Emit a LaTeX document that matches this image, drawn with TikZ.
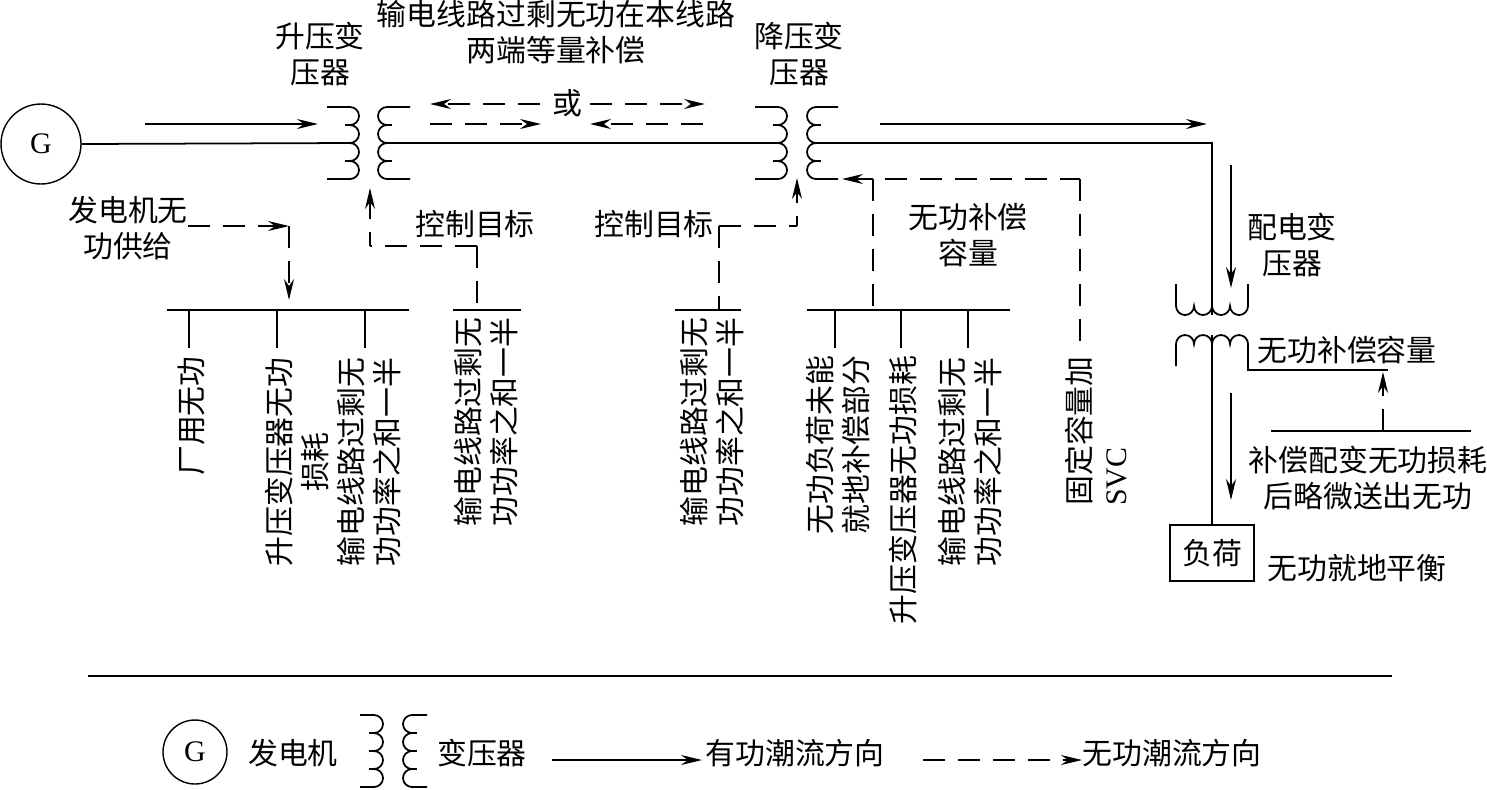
\documentclass[tikz,border=0pt]{standalone}
\usepackage{fontspec}
\setmainfont{Noto Sans CJK SC}
\newfontfamily\latinfont{Liberation Serif}
\usetikzlibrary{arrows.meta}
\tikzset{
  wire/.style={line width=1pt},
  flow/.style={wire,-{Stealth[length=0.42cm,width=0.2cm,inset=0.14cm]}},
  qline/.style={wire,dash pattern=on 0.44cm off 0.26cm},
  qflow/.style={qline,-{Stealth[length=0.42cm,width=0.2cm,inset=0.14cm]}},
  lbl/.style={align=center,font=\fontsize{17}{20.5}\selectfont,inner sep=0pt},
  vlbl/.style={lbl,rotate=90},
  machine/.style={draw,circle,line width=0.8pt,inner sep=0pt,font=\fontsize{17}{17}\latinfont},
  pics/coil/.style n args={2}{code={
    \draw[wire] (-#1,0) -- (0,0) arc (90:-90:9) arc (90:-90:9) arc (90:-90:9) arc (90:-90:9) -- (-#1,-72);
    \foreach \y in {-18,-36,-54} \draw[wire] (-#2,\y) -- (0,\y);
  }}
}
\begin{document}
\begin{tikzpicture}[x=0.02cm,y=0.02cm]
  \useasboundingbox (0,0) rectangle (1487,-789);

  \node[machine,minimum size=1.6cm] (gen) at (41,-144) {G};
  \pic at (350,-107) {coil={23}{5}};
  \pic[xscale=-1] at (387,-107) {coil={23}{5}};
  \pic at (778,-107) {coil={23}{5}};
  \pic[xscale=-1] at (816,-107) {coil={22}{5}};
  \pic[rotate=-90] at (1248,-306) {coil={22}{0}};
  \pic[rotate=90] at (1176,-344) {coil={22}{0}};

  \coordinate (upin) at (350,-143);
  \coordinate (upout) at (387,-143);
  \coordinate (downin) at (778,-143);
  \coordinate (downout) at (816,-143);
  \coordinate (feedcorner) at (1212,-143);
  \coordinate (distin) at (1212,-315);
  \coordinate (distout) at (1212,-335);
  \draw[wire] (gen.east) -- (upin);
  \draw[wire] (upout) -- (downin);
  \draw[wire] (downout) -- (feedcorner) -- (distin);

  \node[lbl] (upname) at (320,-54) {升压变\\压器};
  \node[lbl] (title) at (556,-32) {输电线路过剩无功在本线路\\两端等量补偿};
  \node[lbl] (downname) at (799,-54) {降压变\\压器};
  \node[lbl] (ormark) at (567,-103) {或};
  \node[lbl] (genq) at (128,-228) {发电机无\\功供给};
  \node[lbl] (aimup) at (475,-224) {控制目标};
  \node[lbl] (aimdown) at (654,-224) {控制目标};
  \node[lbl] (compq) at (968,-235) {无功补偿\\容量};
  \node[lbl] (distname) at (1292,-245) {配电变\\压器};
  \node[lbl] (distq) at (1347,-350) {无功补偿容量};
  \node[lbl] (distnote) at (1368,-478) {补偿配变无功损耗\\后略微送出无功};
  \node[lbl,draw,line width=0.8pt,minimum width=1.68cm,minimum height=1.12cm] (load) at (1212,-553) {负荷};
  \node[lbl] (loadnote) at (1357,-568) {无功就地平衡};
  \draw[wire] (distout) -- (load.north);

  \node[vlbl] (plantuse) at (191,-416) {厂用无功};
  \node[vlbl] (uploss) at (297,-462) {升压变压器无功\\损耗};
  \node[vlbl] (halfa) at (369,-462) {输电线路过剩无\\功功率之和一半};
  \node[vlbl] (halfb) at (486,-422) {输电线路过剩无\\功功率之和一半};
  \node[vlbl] (halfc) at (712,-422) {输电线路过剩无\\功功率之和一半};
  \node[vlbl] (loadpart) at (838,-445) {无功负荷未能\\就地补偿部分};
  \node[vlbl] (uplossb) at (903,-490) {升压变压器无功损耗};
  \node[vlbl] (halfd) at (970,-462) {输电线路过剩无\\功功率之和一半};
  \node[vlbl,align=left] (svc) at (1096,-431) {固定容量加\\{\latinfont SVC}};

  \draw[flow] (145,-124) -- (318,-124);
  \draw[flow] (880,-124) -- (1207,-124);
  \draw[flow] (1231,-165) -- (1231,-288);
  \draw[flow] (1231,-393) -- (1231,-500);

  \draw[qflow] (540,-104) -- (430,-104);
  \draw[qflow] (590,-104) -- (705,-104);
  \draw[qflow] (430,-124) -- (541,-124);
  \draw[qflow] (703,-124) -- (590,-124);

  \coordinate (qcorner) at (289,-226);
  \draw[qflow] (genq.east |- qcorner) -- (qcorner);
  \draw[qflow] (qcorner) -- (289,-300);

  \draw[wire] (167,-310) -- (409,-310);
  \draw[wire] (453,-310) -- (521,-310);
  \draw[wire] (675,-310) -- (741,-310);
  \draw[wire] (807,-310) -- (1010,-310);
  \foreach \x in {189,277,365,835,901,968}
    \draw[wire] (\x,-310) -- (\x,-348);

  \coordinate (aimupa) at (477,-246);
  \coordinate (aimupb) at (370,-246);
  \draw[qline] (aimupa) -- (477,-310);
  \draw[qline] (aimupa) -- (aimupb);
  \draw[qflow,dash phase=0.16cm] (aimupb) -- (370,-188);

  \coordinate (aimdowna) at (719,-226);
  \coordinate (aimdownb) at (797,-226);
  \draw[qline] (aimdowna) -- (719,-310);
  \draw[qline] (aimdowna) -- (aimdownb);
  \draw[qflow,dash phase=0.24cm] (aimdownb) -- (797,-178);

  \coordinate (compa) at (873,-179);
  \coordinate (compb) at (1080,-179);
  \draw[flow] (compa) -- (842,-179);
  \draw[qline] (compa) -- (873,-310);
  \draw[qline] (compa) ++(12,0) -- (compb);
  \draw[qline] (compb) -- (1080,-350);

  \coordinate (distcomp) at (1248,-370);
  \coordinate (distbar) at (1388,-370);
  \draw[wire] (1248,-360) -- (distcomp) -- (distbar);
  \draw[qflow] (1383,-431) -- (1383,-372);
  \draw[wire] (1271,-431) -- (1471,-431);

  \draw[wire] (88,-676) -- (1392,-676);

  \node[machine,minimum size=1.28cm] (leggen) at (195,-752) {G};
  \node[lbl] (leggenname) at (293,-753) {发电机};
  \pic at (374,-715) {coil={14}{5}};
  \pic[xscale=-1] at (412,-715) {coil={15}{5}};
  \node[lbl] (legcoil) at (482,-753) {变压器};
  \node[lbl] (legp) at (795,-753) {有功潮流方向};
  \node[lbl] (legq) at (1172,-753) {无功潮流方向};
  \draw[flow] (552,-760) -- (702,-760);
  \draw[qflow] (923,-760) -- (1082,-760);
\end{tikzpicture}
\end{document}
